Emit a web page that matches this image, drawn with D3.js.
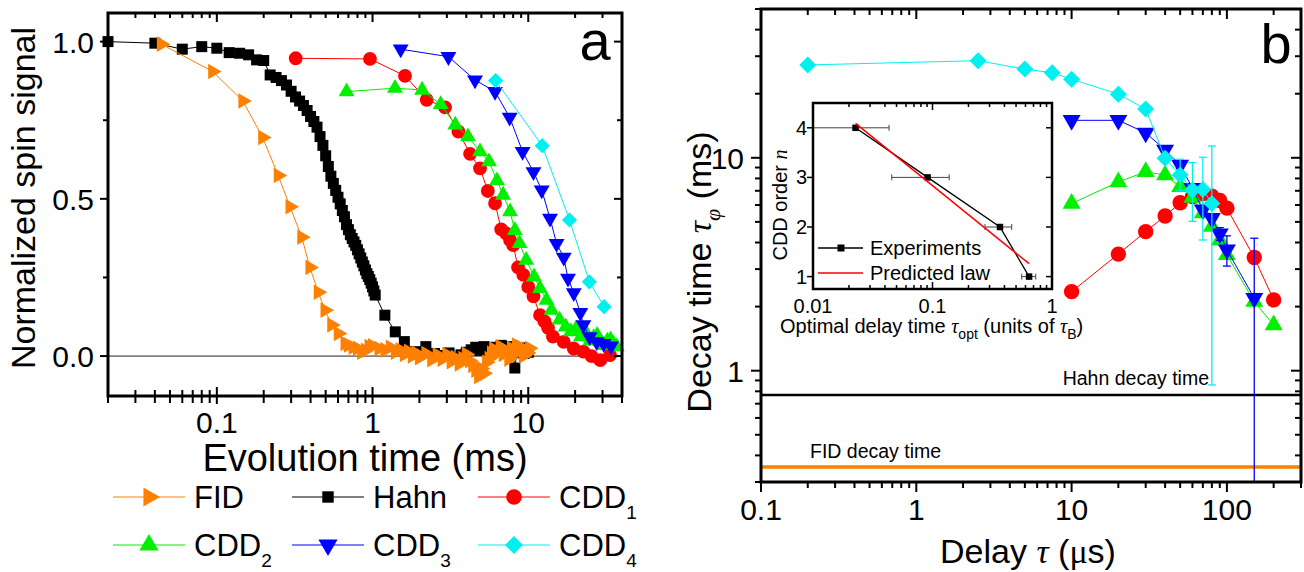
<!DOCTYPE html>
<html>
<head>
<meta charset="utf-8">
<script src="https://cdn.jsdelivr.net/npm/d3@7/dist/d3.min.js"></script>
<style>
html,body{margin:0;padding:0;background:#fff;}
svg{display:block;}
text{font-family:"Liberation Sans",Arial,Helvetica,sans-serif;fill:#000;}
.gr{font-family:"Liberation Serif","DejaVu Serif",serif;font-style:italic;}
</style>
</head>
<body>
<svg id="chart" width="1304" height="572"></svg>
<script>
// ================= Panel a data (Evolution time in ms, normalized signal) =================
const fidTime = [0.044,0.094,0.147,0.197,0.248,0.295,0.351,0.396,0.448,0.495,0.547,0.603,0.666,
  0.70,0.75,0.80,0.85,0.90,0.95,1.00,1.1,1.2,1.3,1.4,1.5,1.6,1.7,1.8,1.9,2.0,
  2.2,2.4,2.6,2.8,3.0,3.2,3.4,3.6,3.8,4.0,4.2,4.4,4.6,4.8,5.0,5.2,5.4,5.6,5.8,6.0,
  6.3,6.6,6.9,7.2,7.5,7.8,8.1,8.4,8.7,9.0,9.3,9.6,9.9,10.2];
const fidSignal = [0.992,0.905,0.811,0.695,0.574,0.475,0.378,0.282,0.203,0.146,0.099,0.072,0.040,
  0.035,0.028,0.025,0.012,0.018,0.030,0.033,0.024,0.020,0.028,0.012,0.020,0.005,0.015,0.000,0.010,-0.005,
  0.008,-0.012,0.004,-0.010,0.005,-0.018,-0.005,-0.025,-0.008,0.006,-0.015,-0.030,-0.045,-0.065,-0.040,-0.055,-0.020,-0.008,0.010,0.022,
  0.010,0.030,0.005,0.018,-0.010,0.025,0.012,0.035,0.015,0.028,0.000,0.020,0.010,0.025];

const hahnTime = [0.02,0.04,0.06,0.08,0.10,0.12,0.14,0.16,0.18,0.20,0.22,0.24,0.26,0.28,0.30,0.32,0.34,0.36,0.38,0.40,
  0.42,0.44,0.46,0.48,0.50,0.52,0.54,0.56,0.58,0.60,0.62,0.64,0.66,0.68,0.70,0.72,0.74,0.76,0.78,0.80,
  0.82,0.84,0.86,0.88,0.90,0.92,0.94,0.96,0.98,1.00,1.02,1.04,1.2,1.4,1.6,1.9,2.2,2.5,2.8,3.1,
  3.4,3.7,4.0,4.3,4.6,4.9,5.2,5.5,5.8,6.1,6.4,6.7,7.0,7.3,7.6,7.9,8.2,8.5,8.8,9.1,9.4,9.7,10.0];
const hahnSignal = [1.000,0.995,0.976,0.984,0.979,0.965,0.963,0.958,0.942,0.940,0.894,0.886,0.876,0.862,0.842,0.824,0.811,0.797,0.781,0.762,
  0.746,0.728,0.698,0.670,0.637,0.603,0.572,0.549,0.527,0.505,0.484,0.463,0.443,0.418,0.402,0.386,0.374,0.363,0.352,0.338,
  0.325,0.312,0.299,0.287,0.274,0.262,0.253,0.243,0.232,0.220,0.207,0.194,0.130,0.077,0.046,0.014,0.030,0.008,0.002,0.010,
  -0.004,0.004,0.012,0.020,0.028,0.018,0.030,0.022,0.012,0.028,0.020,0.034,0.024,0.030,0.016,0.026,-0.038,0.020,0.012,0.026,0.008,0.018,0.012];

const cdd1Time = [0.321,0.963,1.616,2.228,2.92,3.56,4.23,4.9,5.5,6.12,6.7,7.2,7.64,8.0,8.6,9.3,10.0,10.8,11.9,12.7,13.4,14.4,16.9,19.6,22.6,25.5,29.0,33.5];
const cdd1Signal = [0.947,0.945,0.891,0.815,0.791,0.714,0.643,0.597,0.525,0.486,0.403,0.390,0.369,0.353,0.282,0.258,0.220,0.190,0.130,0.110,0.090,0.062,0.045,0.024,0.014,0.000,-0.013,0.003];

const cdd2Time = [0.681,1.394,2.08,2.74,3.4,4.1,4.9,5.6,6.3,6.9,7.64,8.2,8.8,9.7,10.9,11.9,13.1,14.1,15.9,17.4,18.8,20.3,21.8,23.8,25.0,26.3,27.7,29.1,30.6,32.2,33.8,35.4,37.0];
const cdd2Signal = [0.841,0.852,0.846,0.800,0.735,0.698,0.650,0.618,0.558,0.512,0.459,0.400,0.358,0.305,0.252,0.215,0.178,0.146,0.115,0.093,0.078,0.087,0.062,0.070,0.048,0.059,0.066,0.048,0.034,0.048,0.052,0.037,0.030];

const cdd3Time = [1.516,3.07,4.55,6.12,7.6,9.2,10.8,12.2,13.8,15.2,16.9,18.0,19.6,21.6,22.6,24.8,27.5,30.5,34.0];
const cdd3Signal = [0.976,0.952,0.878,0.841,0.759,0.650,0.586,0.528,0.438,0.358,0.314,0.247,0.201,0.138,0.099,0.061,0.045,0.040,0.032];

const cdd4Time = [6.17,12.3,18.4,24.7,30.7];
const cdd4Signal = [0.876,0.669,0.433,0.236,0.157];

// ================= Panel b data (delay in us, decay time in ms) =================
const cdd1Delay = [10,20,30,40,50,60,70,80,90,100,150,200];
const cdd1Decay = [2.35,3.53,4.5,5.33,6.15,6.57,6.8,6.6,6.3,5.8,3.4,2.15];
const cdd2Delay = [10,20,30,40,50,60,70,80,90,100,150,200];
const cdd2Decay = [6.1,7.7,8.6,8.3,7.3,6.5,5.5,4.75,4.1,3.5,2.11,1.64];
const cdd3Delay = [10,20,30,40,50,60,70,80,90,100,150];
const cdd3Decay = [15,15,13.1,10.9,9.25,7.2,5.7,5.2,4.4,3.7,2.19];
const cdd3ErrLo = [null,null,null,10.4,8.9,null,null,null,4.1,3.1,0.1];
const cdd3ErrHi = [null,null,null,11.4,9.7,null,null,null,4.7,4.3,4.19];
const cdd4Delay = [0.2,2.5,5,7.5,10,20,30,40,50,60,70,80];
const cdd4Decay = [27.3,28.6,26.1,25.1,23.4,19.9,16.95,9.95,8.3,7.06,7.1,6.1];
const cdd4ErrLo = [null,null,null,null,null,null,null,null,7.0,5.03,4.11,0.857];
const cdd4ErrHi = [null,null,null,null,null,null,null,null,9.84,9.49,10.06,11.36];
const hahnDecayTime = 0.769;
const fidDecayTime = 0.353;

// ================= Inset data =================
const insetTau = [0.0227,0.091,0.367,0.643];
const insetOrder = [4,3,2,1];
const insetTauLo = [0.01,0.0456,0.275,0.558];
const insetTauHi = [0.0433,0.138,0.46,0.731];
const predTau = [0.0227,0.643];
const predOrder = [4.09,1.26];

// ================= Tick labels =================
const aXTicks = [0.1,1,10], aXLabels = ["0.1","1","10"];
const aYTicks = [0,0.5,1], aYLabels = ["0.0","0.5","1.0"], aYMinor = [0.25,0.75];
const bXTicks = [0.1,1,10,100], bXLabels = ["0.1","1","10","100"];
const bYTicks = [1,10], bYLabels = ["1","10"];
const iXTicks = [0.01,0.1,1], iXLabels = ["0.01","0.1","1"];
const iYTicks = [1,2,3,4], iYLabels = ["1","2","3","4"];

// ================= Drawing =================
const svg = d3.select("#chart");
const COL = {fid:"#FF8000", hahn:"#000000", c1:"#FF0000", c2:"#00F000", c3:"#0000FF", c4:"#00F0F0"};

const xA = d3.scaleLog().domain([0.02,40]).range([108,622]);
const yA = d3.scaleLinear().domain([-0.127,1.091]).range([396,13]);
const xB = d3.scaleLog().domain([0.1,300]).range([761,1301]);
const yB = d3.scaleLog().domain([0.3,50]).range([482,9]);
const xI = d3.scaleLog().domain([0.01,1]).range([813,1052]);
const yI = d3.scaleLinear().domain([0.75,4.5]).range([289,103]);

function logTicks(lo, hi){
  const out=[];
  for(let e=Math.floor(Math.log10(lo)); e<=Math.ceil(Math.log10(hi)); e++){
    for(let k=1;k<=9;k++){
      const v=+(k*Math.pow(10,e)).toPrecision(6);
      if(v>=lo*0.9999 && v<=hi*1.0001) out.push({v:v, major:k===1});
    }
  }
  return out;
}
function ticks(g, list, scale, orient, pos, inMaj, outMaj, inMin, outMin, sw){
  list.forEach(t=>{
    const p=scale(t.v);
    const i=t.major?inMaj:inMin, o=t.major?outMaj:outMin;
    let x1,x2,y1,y2;
    if(orient==="bottom"){x1=x2=p;y1=pos-i;y2=pos+o;}
    else if(orient==="top"){x1=x2=p;y1=pos-o;y2=pos+i;}
    else if(orient==="left"){y1=y2=p;x1=pos-o;x2=pos+i;}
    else {y1=y2=p;x1=pos-i;x2=pos+o;}
    g.append("line").attr("x1",x1).attr("x2",x2).attr("y1",y1).attr("y2",y2)
      .attr("stroke","#000").attr("stroke-width",sw);
  });
}
function symPath(type,size){ return d3.symbol().type(type).size(size)(); }
function series(g, xs, ys, xs_, ys_, color, type, size, rot, lw){
  const pts = xs.map((v,i)=>[xs_(v), ys_(ys[i])]);
  g.append("path").attr("d", d3.line()(pts)).attr("fill","none").attr("stroke",color).attr("stroke-width",lw||1);
  g.selectAll(null).data(pts).enter().append("path")
    .attr("d", symPath(type,size))
    .attr("transform", d=>`translate(${d[0]},${d[1]}) rotate(${rot})`)
    .attr("fill", color);
}

// ---------- Panel a ----------
const ga = svg.append("g");
ga.append("line").attr("x1",xA.range()[0]).attr("x2",xA.range()[1]).attr("y1",yA(0)).attr("y2",yA(0))
  .attr("stroke","#222").attr("stroke-width",1);
series(ga, hahnTime, hahnSignal, xA, yA, COL.hahn, d3.symbolSquare, 121, 0);
series(ga, fidTime, fidSignal, xA, yA, COL.fid, d3.symbolTriangle, 105, 90);
series(ga, cdd1Time, cdd1Signal, xA, yA, COL.c1, d3.symbolCircle, 150, 0);
series(ga, cdd2Time, cdd2Signal, xA, yA, COL.c2, d3.symbolTriangle, 110, 0);
series(ga, cdd3Time, cdd3Signal, xA, yA, COL.c3, d3.symbolTriangle, 110, 180);
series(ga, cdd4Time, cdd4Signal, xA, yA, COL.c4, d3.symbolSquare, 115, 45);

// frame
ga.append("rect").attr("x",108).attr("y",13).attr("width",514).attr("height",383)
  .attr("fill","none").attr("stroke","#000").attr("stroke-width",3);
const aXt = logTicks(0.02,40);
ticks(ga, aXt, xA, "bottom", 396, 9, 8, 6, 7, 2);
ticks(ga, aXt, xA, "top", 13, 9, 0, 5, 0, 2);
const aYt = aYTicks.map(v=>({v,major:true})).concat(aYMinor.map(v=>({v,major:false})));
ticks(ga, aYt, yA, "left", 108, 0, 8, 0, 5, 2);
ticks(ga, aYt, yA, "right", 622, 8, 0, 5, 0, 2);
aXTicks.forEach((v,i)=>ga.append("text").attr("x",xA(v)).attr("y",433).attr("text-anchor","middle")
  .attr("font-size",30).text(aXLabels[i]));
aYTicks.forEach((v,i)=>ga.append("text").attr("x",94).attr("y",yA(v)+11).attr("text-anchor","end")
  .attr("font-size",30).text(aYLabels[i]));
ga.append("text").attr("x",365).attr("y",471).attr("text-anchor","middle").attr("font-size",38).text("Evolution time (ms)");
ga.append("text").attr("transform","translate(35,198) rotate(-90)").attr("text-anchor","middle").attr("font-size",34).text("Normalized spin signal");
ga.append("text").attr("x",595).attr("y",60).attr("text-anchor","middle").attr("font-size",56).text("a");

// legend panel a
const legItems = [
  {name:"FID", sub:"", c:COL.fid, t:d3.symbolTriangle, s:160, r:90},
  {name:"Hahn", sub:"", c:COL.hahn, t:d3.symbolSquare, s:130, r:0},
  {name:"CDD", sub:"1", c:COL.c1, t:d3.symbolCircle, s:190, r:0},
  {name:"CDD", sub:"2", c:COL.c2, t:d3.symbolTriangle, s:160, r:0},
  {name:"CDD", sub:"3", c:COL.c3, t:d3.symbolTriangle, s:160, r:180},
  {name:"CDD", sub:"4", c:COL.c4, t:d3.symbolSquare, s:160, r:45}
];
const legX = [113,292,478], legY = [497,545];
legItems.forEach((it,i)=>{
  const x0 = legX[i%3], y0 = legY[Math.floor(i/3)];
  ga.append("line").attr("x1",x0).attr("x2",x0+72).attr("y1",y0).attr("y2",y0).attr("stroke",it.c).attr("stroke-width",1);
  ga.append("path").attr("d",symPath(it.t,it.s)).attr("transform",`translate(${x0+36},${y0}) rotate(${it.r})`).attr("fill",it.c);
  const tx = ga.append("text").attr("x",x0+81).attr("y",y0+11).attr("font-size",31);
  tx.append("tspan").text(it.name);
  if(it.sub) tx.append("tspan").attr("font-size",19).attr("dy",11).text(it.sub);
});

// ---------- Panel b ----------
const gb = svg.append("g");
svg.append("defs").append("clipPath").attr("id","clipB").append("rect").attr("x",761).attr("y",9).attr("width",540).attr("height",473);
gb.append("line").attr("x1",761).attr("x2",1301).attr("y1",yB(hahnDecayTime)).attr("y2",yB(hahnDecayTime)).attr("stroke","#000").attr("stroke-width",2.5);
gb.append("line").attr("x1",761).attr("x2",1301).attr("y1",yB(fidDecayTime)).attr("y2",yB(fidDecayTime)).attr("stroke",COL.fid).attr("stroke-width",3.5);
gb.append("text").attr("x",1209).attr("y",385).attr("text-anchor","end").attr("font-size",19.5).text("Hahn decay time");
gb.append("text").attr("x",810).attr("y",458).attr("font-size",19.5).text("FID decay time");

function errBars(g, xs, ys, lo, hi, color){
  const ge = g.append("g").attr("clip-path","url(#clipB)");
  xs.forEach((v,i)=>{
    if(lo[i]==null) return;
    const x=xB(v), y1=yB(hi[i]), y2=yB(lo[i]);
    ge.append("line").attr("x1",x).attr("x2",x).attr("y1",y1).attr("y2",y2).attr("stroke",color).attr("stroke-width",1.3);
    ge.append("line").attr("x1",x-4).attr("x2",x+4).attr("y1",y1).attr("y2",y1).attr("stroke",color).attr("stroke-width",1.3);
    ge.append("line").attr("x1",x-4).attr("x2",x+4).attr("y1",y2).attr("y2",y2).attr("stroke",color).attr("stroke-width",1.3);
  });
}
series(gb, cdd1Delay, cdd1Decay, xB, yB, COL.c1, d3.symbolCircle, 185, 0);
series(gb, cdd2Delay, cdd2Decay, xB, yB, COL.c2, d3.symbolTriangle, 140, 0);
errBars(gb, cdd3Delay, cdd3Decay, cdd3ErrLo, cdd3ErrHi, COL.c3);
series(gb, cdd3Delay, cdd3Decay, xB, yB, COL.c3, d3.symbolTriangle, 140, 180);
errBars(gb, cdd4Delay, cdd4Decay, cdd4ErrLo, cdd4ErrHi, COL.c4);
series(gb, cdd4Delay, cdd4Decay, xB, yB, COL.c4, d3.symbolSquare, 145, 45);

gb.append("rect").attr("x",761).attr("y",9).attr("width",540).attr("height",473)
  .attr("fill","none").attr("stroke","#000").attr("stroke-width",3);
const bXt = logTicks(0.1,300), bYt = logTicks(0.3,50);
ticks(gb, bXt, xB, "bottom", 482, 0, 10, 0, 6, 2);
ticks(gb, bXt, xB, "top", 9, 10, 0, 6, 0, 2);
ticks(gb, bYt, yB, "left", 761, 0, 10, 0, 6, 2);
ticks(gb, bYt, yB, "right", 1301, 10, 0, 6, 0, 2);
bXTicks.forEach((v,i)=>gb.append("text").attr("x",xB(v)).attr("y",520).attr("text-anchor","middle").attr("font-size",30).text(bXLabels[i]));
bYTicks.forEach((v,i)=>gb.append("text").attr("x",744).attr("y",yB(v)+11).attr("text-anchor","end").attr("font-size",30).text(bYLabels[i]));
const bxt = gb.append("text").attr("x",1028).attr("y",563).attr("text-anchor","middle").attr("font-size",34);
bxt.append("tspan").text("Delay ");
bxt.append("tspan").attr("class","gr").text("\u03C4");
bxt.append("tspan").text("  (");
bxt.append("tspan").attr("font-family","Liberation Serif, serif").text("\u03BC");
bxt.append("tspan").text("s)");
const byt = gb.append("text").attr("transform","translate(711,272) rotate(-90)").attr("text-anchor","middle").attr("font-size",34);
byt.append("tspan").text("Decay time  ");
byt.append("tspan").attr("class","gr").text("\u03C4");
byt.append("tspan").attr("class","gr").attr("font-size",22).attr("dy",9).text("\u03C6");
byt.append("tspan").attr("dy",-9).text("  (ms)");
gb.append("text").attr("x",1276).attr("y",63).attr("text-anchor","middle").attr("font-size",56).text("b");

// ---------- Inset ----------
const gi = svg.append("g");
gi.append("rect").attr("x",813).attr("y",103).attr("width",239).attr("height",186).attr("fill","#fff");
insetTau.forEach((v,i)=>{
  const y=yI(insetOrder[i]), x1=xI(insetTauLo[i]), x2=xI(insetTauHi[i]);
  gi.append("line").attr("x1",x1).attr("x2",x2).attr("y1",y).attr("y2",y).attr("stroke","#444").attr("stroke-width",1);
  gi.append("line").attr("x1",x1).attr("x2",x1).attr("y1",y-3).attr("y2",y+3).attr("stroke","#444").attr("stroke-width",1);
  gi.append("line").attr("x1",x2).attr("x2",x2).attr("y1",y-3).attr("y2",y+3).attr("stroke","#444").attr("stroke-width",1);
});
series(gi, insetTau, insetOrder, xI, yI, "#000", d3.symbolSquare, 42, 0, 1.3);
gi.append("path").attr("d", d3.line()(predTau.map((v,i)=>[xI(v), yI(predOrder[i])]))).attr("stroke","#FF0000").attr("stroke-width",1.5).attr("fill","none");
gi.append("rect").attr("x",813).attr("y",103).attr("width",239).attr("height",186).attr("fill","none").attr("stroke","#000").attr("stroke-width",2.5);
const iXt = logTicks(0.01,1);
ticks(gi, iXt, xI, "top", 103, 7, 0, 4, 0, 1.5);
ticks(gi, iXt, xI, "bottom", 289, 7, 0, 4, 0, 1.5);
const iYt = iYTicks.map(v=>({v,major:true}));
ticks(gi, iYt, yI, "left", 813, 0, 6, 0, 0, 1.5);
ticks(gi, iYt, yI, "right", 1052, 6, 0, 0, 0, 1.5);
iXTicks.forEach((v,i)=>gi.append("text").attr("x",xI(v)).attr("y",313).attr("text-anchor","middle").attr("font-size",20).text(iXLabels[i]));
iYTicks.forEach((v,i)=>gi.append("text").attr("x",807).attr("y",yI(v)+7).attr("text-anchor","end").attr("font-size",20).text(iYLabels[i]));
const ixt = gi.append("text").attr("x",780).attr("y",333).attr("font-size",20);
ixt.append("tspan").text("Optimal delay time ");
ixt.append("tspan").attr("class","gr").text("\u03C4");
ixt.append("tspan").attr("font-size",14).attr("dy",6).text("opt");
ixt.append("tspan").attr("dy",-6).text(" (units of ");
ixt.append("tspan").attr("class","gr").text("\u03C4");
ixt.append("tspan").attr("font-size",14).attr("dy",6).text("B");
ixt.append("tspan").attr("dy",-6).text(")");
const iyt = gi.append("text").attr("transform","translate(787,205) rotate(-90)").attr("text-anchor","middle").attr("font-size",20);
iyt.append("tspan").text("CDD order ");
iyt.append("tspan").attr("class","gr").text("n");
// inset legend
gi.append("line").attr("x1",818).attr("x2",863).attr("y1",248).attr("y2",248).attr("stroke","#000").attr("stroke-width",1.3);
gi.append("path").attr("d",symPath(d3.symbolSquare,49)).attr("transform","translate(841,248)").attr("fill","#000");
gi.append("text").attr("x",870).attr("y",255).attr("font-size",20).text("Experiments");
gi.append("line").attr("x1",818).attr("x2",863).attr("y1",273).attr("y2",273).attr("stroke","#FF0000").attr("stroke-width",1.5);
gi.append("text").attr("x",870).attr("y",280).attr("font-size",20).text("Predicted law");
</script>
</body>
</html>
